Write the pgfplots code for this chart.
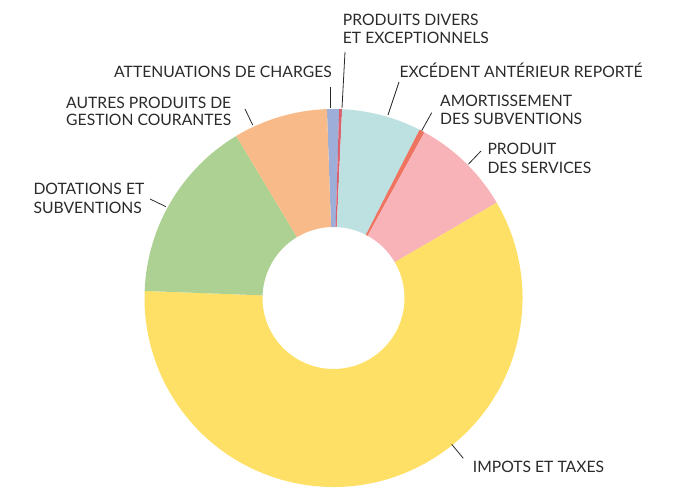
\documentclass[border=0pt]{standalone}
\usepackage{pgfplots}
\pgfplotsset{compat=1.18}
\usepackage{fontspec}
\setmainfont{Lato}
\definecolor{cblue}{HTML}{9DAED9}
\definecolor{cred}{HTML}{DC5F6D}
\definecolor{cteal}{HTML}{BDE1E1}
\definecolor{corange}{HTML}{EE7461}
\definecolor{cpink}{HTML}{F7B3B8}
\definecolor{cyellow}{HTML}{FFE066}
\definecolor{cgreen}{HTML}{ACD192}
\definecolor{cpeach}{HTML}{F8BA88}
\definecolor{ctext}{HTML}{2A2A2A}
\begin{document}
\begin{tikzpicture}[x=1pt,y=1pt]
\useasboundingbox (0,0) rectangle (680,489);
\begin{axis}[
  at={(0,0)}, anchor=south west,
  scale only axis, width=680pt, height=489pt,
  xmin=0, xmax=680, ymin=0, ymax=489, y dir=reverse,
  hide axis, clip=false,
]
% shares in percent, clockwise from -2 degrees (from 12 o'clock)
\gdef\cum{-2.0}
\foreach \v/\c in {1.03/cblue, 0.25/cred, 6.80/cteal, 0.47/corange, 8.60/cpink, 59.00/cyellow, 15.80/cgreen, 8.05/cpeach} {
  \pgfmathsetmacro\aA{90-\cum}
  \pgfmathsetmacro\aB{90-\cum-3.6*\v}
  \pgfmathsetmacro\cumnew{\cum+3.6*\v}
  \edef\temp{\noexpand\fill[\c, shift={(axis cs:333.5,298)}] (\aA:71pt) -- (\aA:189pt) arc[start angle=\aA, end angle=\aB, radius=189pt] -- (\aB:71pt) arc[start angle=\aB, end angle=\aA, radius=71pt] -- cycle;}
  \temp
  \xdef\cum{\cumnew}
}
% leader lines
\draw[ctext, line width=0.8pt] (axis cs:345,52) -- (axis cs:342,108);
\draw[ctext, line width=0.8pt] (axis cs:330.3,87) -- (axis cs:330.3,108);
\draw[ctext, line width=0.8pt] (axis cs:399,82) -- (axis cs:388,115);
\draw[ctext, line width=0.8pt] (axis cs:431.7,112.7) -- (axis cs:421.7,130.7);
\draw[ctext, line width=0.8pt] (axis cs:481,151) -- (axis cs:468.3,164.3);
\draw[ctext, line width=0.8pt] (axis cs:451.7,444.3) -- (axis cs:463.3,458.3);
\draw[ctext, line width=0.8pt] (axis cs:150,199) -- (axis cs:166,206.7);
\draw[ctext, line width=0.8pt] (axis cs:245,109) -- (axis cs:252.7,125);
% labels
\tikzset{lab/.style={inner sep=0pt, text=ctext, font=\fontsize{15.7}{18}\selectfont}}
\node[lab, anchor=base west] at (axis cs:342.7,26) {PRODUITS DIVERS};
\node[lab, anchor=base west] at (axis cs:342.7,43.3) {ET EXCEPTIONNELS};
\node[lab, anchor=base east] at (axis cs:332,77.3) {ATTENUATIONS DE CHARGES};
\node[lab, anchor=base west] at (axis cs:399.3,77.3) {EXCÉDENT ANTÉRIEUR REPORTÉ};
\node[lab, anchor=base west] at (axis cs:440,106.7) {AMORTISSEMENT};
\node[lab, anchor=base west] at (axis cs:440,125) {DES SUBVENTIONS};
\node[lab, anchor=base west] at (axis cs:487.3,155) {PRODUIT};
\node[lab, anchor=base west] at (axis cs:487.3,173.3) {DES SERVICES};
\node[lab, anchor=base west] at (axis cs:472.7,472.7) {IMPOTS ET TAXES};
\node[lab, anchor=base west] at (axis cs:33.3,195) {DOTATIONS ET};
\node[lab, anchor=base west] at (axis cs:33.3,213.3) {SUBVENTIONS};
\node[lab, anchor=base west] at (axis cs:66,108.3) {AUTRES PRODUITS DE};
\node[lab, anchor=base west] at (axis cs:66,126) {GESTION COURANTES};
\end{axis}
\end{tikzpicture}
\end{document}
